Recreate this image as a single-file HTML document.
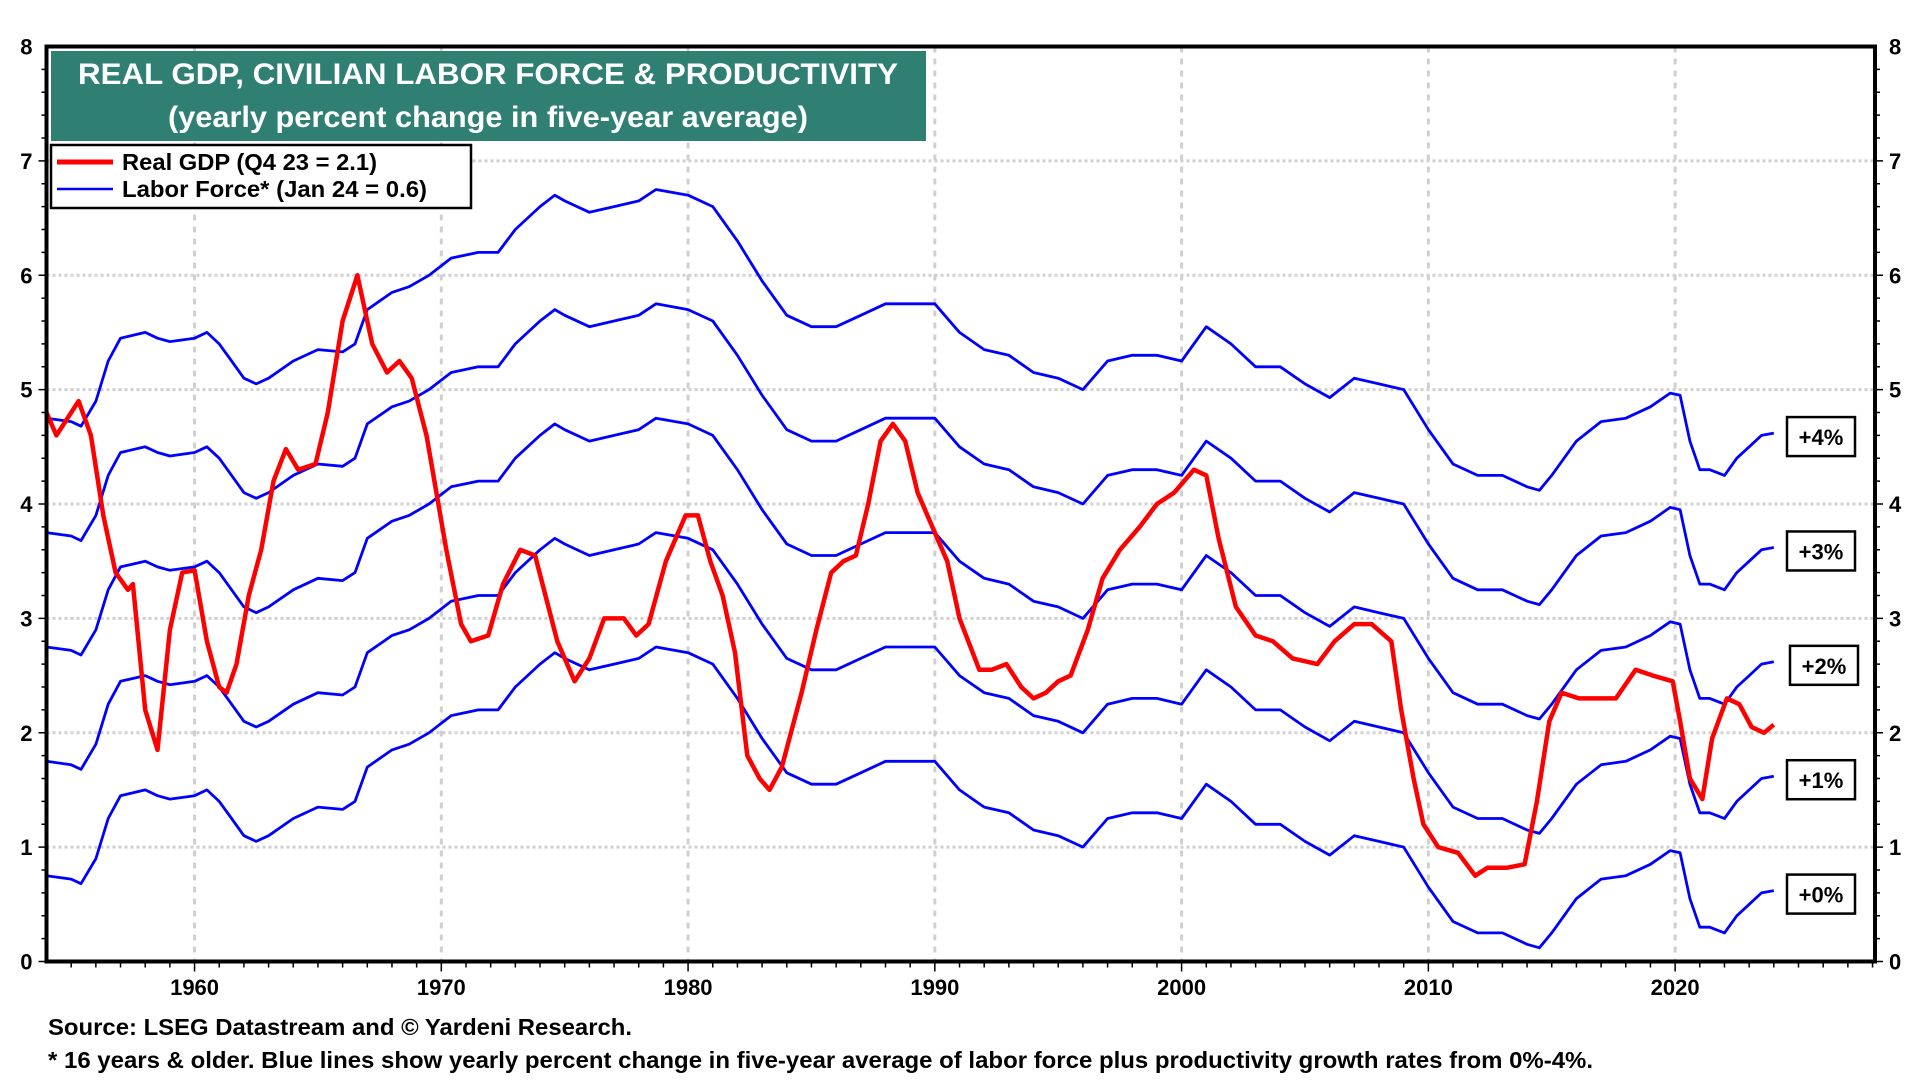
<!DOCTYPE html>
<html><head><meta charset="utf-8"><style>
body{margin:0;background:#fff;width:1920px;height:1080px;overflow:hidden;font-family:"Liberation Sans",sans-serif}
svg{position:absolute;left:0;top:0}
</style></head><body>
<svg id="chart" width="1920" height="1080" viewBox="0 0 1920 1080" xmlns="http://www.w3.org/2000/svg">
<g id="grid"></g>
<g id="series"></g>
<rect x="46.5" y="46.5" width="1828.5" height="915" fill="none" stroke="#000" stroke-width="4"/>
<g id="axes"></g>
<g>
<rect x="51" y="51" width="875" height="90" fill="#2f7f72"/>
<text x="488" y="84" text-anchor="middle" fill="#fff" font-weight="bold" font-size="30" textLength="820" lengthAdjust="spacingAndGlyphs">REAL GDP, CIVILIAN LABOR FORCE &amp; PRODUCTIVITY</text>
<text x="488" y="127" text-anchor="middle" fill="#fff" font-weight="bold" font-size="30" textLength="640" lengthAdjust="spacingAndGlyphs">(yearly percent change in five-year average)</text>
</g>
<g>
<rect x="51" y="145" width="420" height="63" fill="#fff" stroke="#000" stroke-width="2.5"/>
<line x1="57" y1="162" x2="113" y2="162" stroke="#f00" stroke-width="5"/>
<text x="122" y="170" font-weight="bold" font-size="23" textLength="255" lengthAdjust="spacingAndGlyphs">Real GDP (Q4 23 = 2.1)</text>
<line x1="57" y1="189" x2="113" y2="189" stroke="#00f" stroke-width="2.5"/>
<text x="122" y="197" font-weight="bold" font-size="23" textLength="305" lengthAdjust="spacingAndGlyphs">Labor Force* (Jan 24 = 0.6)</text>
</g>
<g id="offset-labels"></g>
<text x="48" y="1035" font-weight="bold" font-size="23" textLength="584" lengthAdjust="spacingAndGlyphs">Source: LSEG Datastream and © Yardeni Research.</text>
<text x="48" y="1068" font-weight="bold" font-size="23" textLength="1545" lengthAdjust="spacingAndGlyphs">* 16 years &amp; older. Blue lines show yearly percent change in five-year average of labor force plus productivity growth rates from 0%-4%.</text>
</svg>
<script>
const gdpYears=[1954,1954.4,1955.3,1955.8,1956.3,1956.8,1957.3,1957.5,1958,1958.5,1959,1959.5,1960,1960.5,1961,1961.3,1961.7,1962.2,1962.7,1963.2,1963.7,1964.2,1964.9,1965.4,1966,1966.6,1967.2,1967.8,1968.3,1968.8,1969.4,1970.2,1970.8,1971.2,1971.9,1972.5,1973.2,1973.8,1974.7,1975.4,1976,1976.6,1977.4,1977.9,1978.4,1979.1,1979.9,1980.4,1980.9,1981.4,1981.9,1982.4,1982.9,1983.3,1983.8,1984.6,1985.2,1985.8,1986.3,1986.8,1987.3,1987.8,1988.3,1988.8,1989.3,1990,1990.5,1991,1991.8,1992.3,1992.9,1993.5,1994,1994.5,1995,1995.5,1996.2,1996.8,1997.5,1998.3,1999,1999.7,2000.5,2001,2001.5,2002.2,2003,2003.7,2004.5,2005.5,2006.2,2007,2007.7,2008.5,2008.9,2009.4,2009.8,2010.4,2011.2,2011.9,2012.4,2013.2,2013.9,2014.4,2014.9,2015.4,2016.1,2016.9,2017.6,2018.4,2019.1,2019.9,2020.2,2020.6,2021.1,2021.5,2022.1,2022.6,2023.1,2023.6,2024];
const gdpValues=[4.8,4.6,4.9,4.6,3.9,3.4,3.25,3.3,2.2,1.85,2.9,3.4,3.42,2.8,2.4,2.35,2.6,3.2,3.6,4.2,4.48,4.3,4.35,4.8,5.6,6.0,5.4,5.15,5.25,5.1,4.6,3.6,2.95,2.8,2.85,3.3,3.6,3.55,2.8,2.45,2.65,3.0,3.0,2.85,2.95,3.5,3.9,3.9,3.5,3.2,2.7,1.8,1.6,1.5,1.7,2.35,2.9,3.4,3.5,3.55,4.0,4.55,4.7,4.55,4.1,3.75,3.5,3.0,2.55,2.55,2.6,2.4,2.3,2.35,2.45,2.5,2.9,3.35,3.6,3.8,4.0,4.1,4.3,4.25,3.7,3.1,2.85,2.8,2.65,2.6,2.8,2.95,2.95,2.8,2.2,1.6,1.2,1.0,0.95,0.75,0.82,0.82,0.85,1.4,2.1,2.35,2.3,2.3,2.3,2.55,2.5,2.45,2.1,1.6,1.42,1.95,2.3,2.25,2.05,2.0,2.07];
const laborYears=[1954,1955,1955.4,1956,1956.5,1957,1958,1958.5,1959,1960,1960.5,1961,1961.5,1962,1962.5,1963,1964,1965,1966,1966.5,1967,1968,1968.7,1969.5,1970.4,1971.5,1972.3,1973,1974,1974.6,1975,1976,1977,1978,1978.7,1980,1981,1982,1983,1984,1985,1986,1987,1988,1989,1990,1991,1992,1993,1994,1995,1996,1997,1998,1999,2000,2001,2002,2003,2004,2005,2006,2007,2008,2009,2010,2011,2012,2013,2014,2014.5,2015,2016,2017,2018,2019,2019.8,2020.2,2020.6,2021,2021.4,2022,2022.5,2023,2023.5,2024];
const laborValues=[0.75,0.72,0.68,0.9,1.25,1.45,1.5,1.45,1.42,1.45,1.5,1.4,1.25,1.1,1.05,1.1,1.25,1.35,1.33,1.4,1.7,1.85,1.9,2.0,2.15,2.2,2.2,2.4,2.6,2.7,2.65,2.55,2.6,2.65,2.75,2.7,2.6,2.3,1.95,1.65,1.55,1.55,1.65,1.75,1.75,1.75,1.5,1.35,1.3,1.15,1.1,1.0,1.25,1.3,1.3,1.25,1.55,1.4,1.2,1.2,1.05,0.93,1.1,1.05,1.0,0.65,0.35,0.25,0.25,0.15,0.12,0.25,0.55,0.72,0.75,0.85,0.97,0.95,0.55,0.3,0.3,0.25,0.4,0.5,0.6,0.62];
const offsets=[0,1,2,3,4];
const offsetLabels=["+0%","+1%","+2%","+3%","+4%"];
const yTicks=[0,1,2,3,4,5,6,7,8];
const xTicks=[1960,1970,1980,1990,2000,2010,2020];

const NS="http://www.w3.org/2000/svg";
const L=46.5,R=1875,T=46.5,B=961.5,X0=1954,X1=2028.1;
function xs(y){return L+(y-X0)/(X1-X0)*(R-L);}
function ys(v){return B-v/8*(B-T);}
function mk(tag,attrs,parent){const e=document.createElementNS(NS,tag);for(const k in attrs)e.setAttribute(k,attrs[k]);parent.appendChild(e);return e;}
const grid=document.getElementById('grid'),axes=document.getElementById('axes'),series=document.getElementById('series'),olab=document.getElementById('offset-labels');
yTicks.forEach(v=>{
  if(v>0&&v<8){const g=mk('line',{x1:L,x2:R,y1:ys(v),y2:ys(v),stroke:'#d0d0d0','stroke-width':3,'stroke-dasharray':'3 3'},grid);
  
  }
  [[L-14,'end'],[R+14,'start']].forEach(([x,a])=>{
    const t=mk('text',{x:x,y:ys(v)+8,'text-anchor':a,'font-weight':'bold','font-size':22},axes);t.textContent=v;
    
    
  });
  for(let k=0;k<5&&v<8;k++){const yy=ys(v+k*0.2);
    mk('line',{x1:L-(k?5:8),x2:L,y1:yy,y2:yy,stroke:'#000','stroke-width':1.5},axes);
    mk('line',{x1:R,x2:R+(k?5:8),y1:yy,y2:yy,stroke:'#000','stroke-width':1.5},axes);}
});
xTicks.forEach(yr=>{
  const g=mk('line',{x1:xs(yr),x2:xs(yr),y1:T,y2:B,stroke:'#d0d0d0','stroke-width':3,'stroke-dasharray':'6 6'},grid);
  
  
  const t=mk('text',{x:xs(yr),y:995,'text-anchor':'middle','font-weight':'bold','font-size':22},axes);t.textContent=yr;
  
  
});
for(let yr=1955;yr<=2028;yr++){mk('line',{x1:xs(yr),x2:xs(yr),y1:B,y2:B+(yr%10?6:10),stroke:'#000','stroke-width':1.5},axes);}
offsets.forEach((o,i)=>{
  const p=mk('polyline',{points:laborYears.map((y,j)=>xs(y).toFixed(1)+','+ys(laborValues[j]+o).toFixed(1)).join(' '),fill:'none',stroke:'#0000ff','stroke-width':2.8,'stroke-linejoin':'round'},series);
  
  
  const last=laborValues[laborValues.length-1]+o;
  const cy=ys(last)+4;
  const x=i==2?1790:1787;
  const r=mk('rect',{x:x,y:cy-20,width:68,height:39,fill:'#fff',stroke:'#000','stroke-width':2.5},olab);
  
  
  const t=mk('text',{x:x+34,y:cy+8,'text-anchor':'middle','font-weight':'bold','font-size':22},olab);t.textContent=offsetLabels[i];
  
  
});
const gp=mk('polyline',{points:gdpYears.map((y,j)=>xs(y).toFixed(1)+','+ys(gdpValues[j]).toFixed(1)).join(' '),fill:'none',stroke:'#ff0000','stroke-width':4.5,'stroke-linejoin':'round'},series);


</script>
</body></html>
